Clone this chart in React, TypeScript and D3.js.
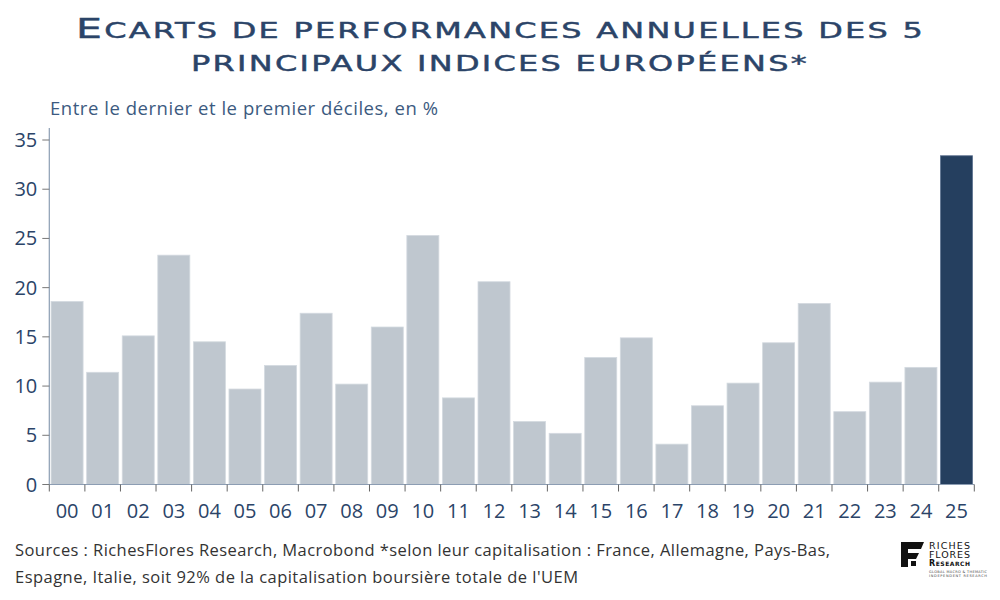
import React from "react";
import * as d3 from "d3";

const categories = ["00","01","02","03","04","05","06","07","08","09","10","11","12","13","14","15","16","17","18","19","20","21","22","23","24","25"];
const values = [18.6,11.4,15.1,23.3,14.5,9.7,12.1,17.4,10.2,16.0,25.3,8.8,20.6,6.4,5.2,12.9,14.9,4.1,8.0,10.3,14.4,18.4,7.4,10.4,11.9,33.4];
const yTicks = [0,5,10,15,20,25,30,35];
const highlight = "25";

const W = 1000, H = 600;
const x0 = 49.3, x1 = 974.3, yBase = 484.5, yTop = 140;

export default function App() {
  const x = d3.scaleBand<string>().domain(categories).range([x0, x1]).paddingInner(0.1).paddingOuter(0.05);
  const y = d3.scaleLinear().domain([0, 35]).range([yBase, yTop]);
  const step = x.step();
  const navy = "#2b4468";
  const axisCol = "#8c9db3";
  const titleStyle = { fontFamily: "DejaVu Sans", fontSize: 21, fontWeight: 400, letterSpacing: 1.5 } as React.CSSProperties;
  return (
    <svg width={W} height={H} style={{ position: "absolute", left: 0, top: 0, background: "#fff" }}>
      <text x={76} y={37.7} fill={navy} stroke={navy} strokeWidth={0.45} style={titleStyle} textLength={849} lengthAdjust="spacingAndGlyphs"><tspan style={{ fontSize: 27 }}>E</tspan>CARTS DE PERFORMANCES ANNUELLES DES 5</text>
      <text x={191} y={71} fill={navy} stroke={navy} strokeWidth={0.45} style={titleStyle} textLength={618} lengthAdjust="spacingAndGlyphs">PRINCIPAUX INDICES EUROPÉENS*</text>
      <text x={50} y={115} fill="#3c5a80" style={{ fontFamily: "Open Sans", fontSize: 18.5 }} textLength={388}>Entre le dernier et le premier déciles, en %</text>
      {categories.map((c, i) => (
        <rect key={c} x={x(c)} y={y(values[i])} width={x.bandwidth()} height={yBase - y(values[i])}
          fill={c === highlight ? "#253f5f" : "#bfc7cf"} stroke={c === highlight ? "#5d7290" : "#d4dae0"} strokeWidth={0.8} />
      ))}
      <line x1={x0} x2={x0} y1={128} y2={yBase} stroke={axisCol} strokeWidth={1.2} />
      <line x1={x0} x2={x1} y1={yBase} y2={yBase} stroke={axisCol} strokeWidth={1.2} />
      {yTicks.map(t => (
        <g key={t}>
          <line x1={x0 - 7} x2={x0} y1={y(t)} y2={y(t)} stroke="#777" strokeWidth={1} />
          <text x={x0 - 12} y={y(t) + 7} textAnchor="end" fill={navy} style={{ fontFamily: "Open Sans", fontSize: 20 }}>{t}</text>
        </g>
      ))}
      {d3.range(categories.length + 1).map(i => (
        <line key={i} x1={x0 + i * step} x2={x0 + i * step} y1={yBase} y2={yBase + 7} stroke="#666" strokeWidth={1} />
      ))}
      {categories.map(c => (
        <text key={c} x={(x(c) as number) + x.bandwidth() / 2} y={518} textAnchor="middle" fill={navy} style={{ fontFamily: "Open Sans", fontSize: 20 }}>{c}</text>
      ))}
      <text x={15} y={556} fill="#333" style={{ fontFamily: "Open Sans", fontSize: 16.5 }} textLength={815}>Sources : RichesFlores Research, Macrobond *selon leur capitalisation : France, Allemagne, Pays-Bas,</text>
      <text x={15} y={583} fill="#333" style={{ fontFamily: "Open Sans", fontSize: 16.5 }} textLength={563}>Espagne, Italie, soit 92% de la capitalisation boursière totale de l'UEM</text>
      <g>
        <path d="M901,542 L924,542 L921,549 L908,549 L908,553 L919,553 L916,559 L908,559 L908,567 L901,567 Z" fill="#111" />
        <path d="M911,561 L916,561 L916,566 L911,566 Z" fill="#111" />
        <text x={929} y={549} fill="#111" textLength={41} style={{ fontFamily: "DejaVu Sans", fontSize: 9.5 }}>RICHES</text>
        <text x={929} y={558} fill="#111" textLength={41} style={{ fontFamily: "DejaVu Sans", fontSize: 9.5 }}>FLORES</text>
        <text x={929} y={566} fill="#111" textLength={41} style={{ fontFamily: "DejaVu Sans", fontSize: 8, fontVariant: "small-caps", fontWeight: 600 }}>Research</text>
        <text x={929} y={573} fill="#444" textLength={58} style={{ fontFamily: "DejaVu Sans", fontSize: 3.5 }}>GLOBAL MACRO & THEMATIC</text>
        <text x={929} y={577} fill="#444" textLength={58} style={{ fontFamily: "DejaVu Sans", fontSize: 3.5 }}>INDEPENDENT RESEARCH</text>
      </g>
    </svg>
  );
}
